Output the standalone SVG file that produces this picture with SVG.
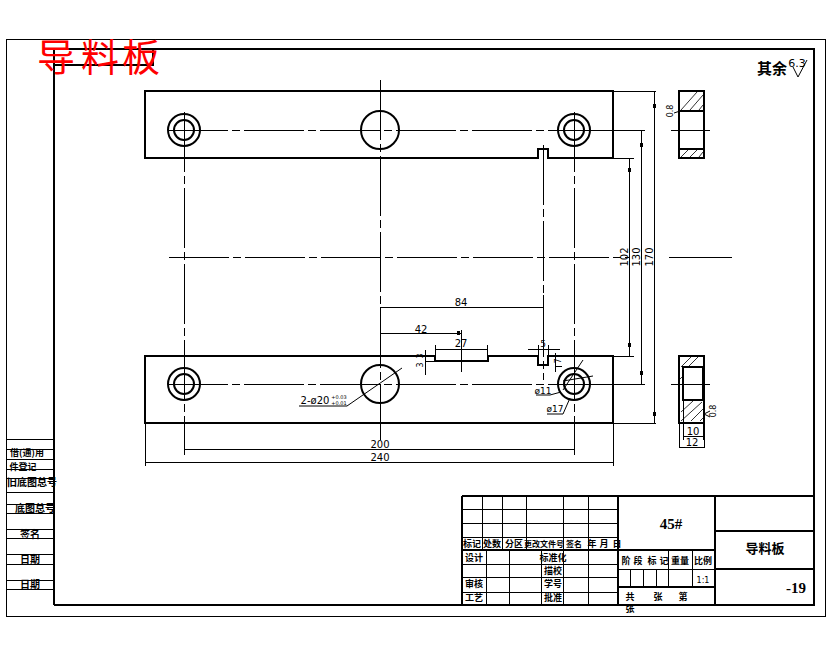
<svg xmlns="http://www.w3.org/2000/svg" width="830" height="654" viewBox="0 0 830 654">
<style>
.t1{fill:none;stroke:#000;stroke-width:1;shape-rendering:crispEdges}
.t2{fill:none;stroke:#000;stroke-width:2;shape-rendering:crispEdges}
.c2{fill:none;stroke:#000;stroke-width:2}
.d{fill:none;stroke:#000;stroke-width:1}
.cl{fill:none;stroke:#000;stroke-width:1;shape-rendering:crispEdges;stroke-dasharray:60 4 8 4}
.h{fill:none;stroke:#000;stroke-width:.8}
.dim{font-family:"DejaVu Sans","Liberation Sans",sans-serif;font-size:10px;fill:#000;text-anchor:middle}
.s9{font-size:9px}.s7{font-size:8px}.s5{font-size:5px}.s11{font-size:11px}.s8{font-size:8px}
.cn{font-family:"Noto Sans CJK SC",sans-serif;font-weight:700;font-size:9px;fill:#000;text-anchor:middle}
.cn10{font-size:10px}.cn8{font-size:8px}.cn13{font-size:13px}.cn15{font-size:15px}
.big{font-family:"Liberation Serif",serif;font-weight:700;fill:#000;text-anchor:middle}
.tk{fill:#000;stroke:none;shape-rendering:crispEdges}
</style>
<rect width="830" height="654" fill="#fff"/>
<g id="frame">
<rect class="t1" x="6.5" y="39.5" width="819" height="577"/>
<path class="t2" d="M54 605V49H814V605H54M54 65H153V49"/>
</g>
<g id="strip">
<path class="t1" d="M6 439.500H54M6 449.500H54M6 459.500H54M6 469.500H54M6 478.500H54M6 492.500H54M6 504.500H54M6 513.500H54M6 529.500H54M6 538.500H54M6 554.500H54M6 564.500H54M6 580.500H54M6 589.500H54"/>
<text class="cn" x="27" y="456">借(通)用</text>
<text class="cn" x="23" y="470">件登记</text>
<text class="cn cn10" x="32" y="486">旧底图总号</text>
<text class="cn cn10" x="35" y="512">底图总号</text>
<text class="cn cn10" x="30" y="538">签名</text>
<text class="cn cn10" x="30" y="563">日期</text>
<text class="cn cn10" x="30" y="588">日期</text>
</g>
<g id="title-red"><text x="37 81 122" y="71" font-family="Noto Sans CJK SC,sans-serif" font-size="38" fill="#f00">导料板</text></g>
<g id="plates">
<path class="t2" d="M145 91H613V158H548V149H538V158H145Z"/>
<path class="t2" d="M145 356H435V361H488V356H538V365H548V356H613V423H145Z"/>
<circle class="c2" cx="184" cy="130" r="16"/><circle class="c2" cx="184" cy="130" r="10"/>
<circle class="c2" cx="380" cy="130" r="19"/>
<circle class="c2" cx="574" cy="130" r="16"/><circle class="c2" cx="574" cy="130" r="10"/>
<circle class="c2" cx="184" cy="384" r="16"/><circle class="c2" cx="184" cy="384" r="10"/>
<circle class="c2" cx="380" cy="384" r="19"/>
<circle class="c2" cx="574" cy="384" r="16"/><circle class="c2" cx="574" cy="384" r="10"/>
</g>
<g id="sections">
<path class="t2" d="M679 91H704V158H679ZM679 111H704M679 149H704"/>
<path class="t2" d="M679 356H704V423H679ZM683 367H703V400H683Z"/>
<path class="h" d="M681 110L697 92M690 110L703 95M699 110L703 105M681 157L688 150M690 157L697 150M699 157L703 152M681 367L691 357M688 367L698 357M681 412L693 401M681 421L702 402M691 421L703 409M700 421L703 418M680 379L682 377"/>
<path class="cl" d="M671 130.500H710M671 384.500H710"/>
</g>
<g id="connectors">
<path class="cl" d="M168 130.500H600M168 384.500H600"/>
<path class="cl" d="M169 257.500H630"/>
<path class="d" shape-rendering="crispEdges" d="M669 257.500H732"/>
<path class="cl" d="M184.500 112V455"/>
<path class="cl" d="M380.500 80V440"/>
<path class="cl" d="M574.500 112V455"/>
<path class="cl" d="M543.500 145V380"/>
<path class="cl" d="M461.500 330V372"/>
<path class="t1" d="M613 91H656M613 158H634M613 356H634M613 423H656M600 130.500H645M600 384.500H645"/>
<path class="t1" d="M629.500 158V356M641.500 130V384M654.500 91V423"/>
<path class="t1" d="M145.500 423V466M613.500 423V466M185 449.500H574M145 462.500H613"/>
<path class="t1" d="M380 307.500H543M380 333.500H461M543.500 295V345M435.500 345V356M487.500 345V356M436 349.500H488M538.500 345V356M548.500 345V356M528 349.500H560"/>
<path class="t1" d="M425 356.500H435M425 361.500H435M425.500 350V375"/>
<path class="t1" d="M555.500 353V372M555 366.500H562"/>
<path class="d" d="M347 406H299M347 406L402 368M536 395H550L561 392M563 381L593 376M563 390L583 360M547 414H563L570 398"/>
<path class="t1" d="M683.500 400V440M703.500 400V440M679.500 423V448M704.500 423V448M684 436.500H703M680 447.500H704"/>
<path class="d" d="M704 414L710 411M704 414L710 417M680 111L674 113"/>
<path class="tk" d="M628 168h3v4h-3zM640 143h3v4h-3zM653 104h3v4h-3zM628 343h3v4h-3zM640 371h3v4h-3zM653 412h3v4h-3zM457 331h3v4h-3zM185 449h4v1h-4zM148 462h4v1h-4zM538 307h4v1h-4z"/>
</g>
<g id="dim-labels">
<text class="dim" x="461" y="306">84</text>
<text class="dim" x="421" y="333">42</text>
<text class="dim" x="461" y="347">27</text>
<text class="dim s9" x="543" y="347">5</text>
<text class="dim" x="380" y="448">200</text>
<text class="dim" x="380" y="461">240</text>
<text class="dim" transform="translate(628 257) rotate(-90)">102</text>
<text class="dim" transform="translate(640 257) rotate(-90)">130</text>
<text class="dim" transform="translate(653 257) rotate(-90)">170</text>
<text class="dim" x="315" y="404">2-ø20</text>
<text class="dim s5" x="339" y="399">+0.03</text>
<text class="dim s5" x="339" y="405">+0.01</text>
<text class="dim s9" x="543" y="394">ø11</text>
<text class="dim s9" x="555" y="412">ø17</text>
<text class="dim" x="693" y="435">10</text>
<text class="dim" x="692" y="446">12</text>
<text class="dim s7" transform="translate(423 356) rotate(-90)">3</text>
<text class="dim s7" transform="translate(423 365) rotate(-90)">3</text>
<text class="dim s7" transform="translate(561 361) rotate(-90)">7</text>
<text class="dim s7" transform="translate(673 111) rotate(-90)">0.8</text>
<text class="dim s7" transform="translate(716 411) rotate(-90)">0.8</text>
</g>
<g id="finish">
<text class="cn cn15" x="772" y="74">其余</text>
<path class="d" d="M793 67L798 77L807 60"/>
<text class="dim s11" x="797" y="67">6.3</text>
</g>
<g id="title-block">
<path class="t2" d="M462 496H814M462 550H618M618 550H715M715 531H814M715 569H814M618 587H715M462 496V605M618 496V605M715 496V605"/>
<path class="t1" d="M462 509.500H618M462 523.500H618M462 537.500H618M462 564.500H618M462 577.500H618M462 592.500H618M618 569.500H715"/>
<path class="t1" d="M482.500 496V550M502.500 496V550M526.500 496V550M563.500 496V605M588.500 496V605M486.500 550V605M509.500 550V605M541.500 550V605M668.500 550V587M692.500 550V587M630.500 569V587M643.500 569V587M656.500 569V587"/>
<text class="cn" x="472" y="547">标记</text>
<text class="cn" x="492" y="547">处数</text>
<text class="cn" x="514" y="547">分区</text>
<text class="cn cn8" x="544" y="547">更改文件号</text>
<text class="cn cn8" x="574" y="547">签名</text>
<text class="cn" x="592" y="547">年</text>
<text class="cn" x="604" y="547">月</text>
<text class="cn" x="617" y="547">日</text>
<text class="cn" x="474" y="561">设计</text>
<text class="cn" x="553" y="561">标准化</text>
<text class="cn" x="553" y="574">描校</text>
<text class="cn" x="474" y="587">审核</text>
<text class="cn" x="553" y="587">学号</text>
<text class="cn" x="474" y="601">工艺</text>
<text class="cn" x="553" y="601">批准</text>
<text class="cn" x="626" y="564">阶</text><text class="cn" x="638" y="564">段</text><text class="cn" x="652" y="564">标</text><text class="cn" x="664" y="564">记</text>
<text class="cn" x="680" y="564">重量</text>
<text class="cn" x="703" y="564">比例</text>
<text class="dim s8" x="703" y="583">1:1</text>
<text class="big" x="671" y="529" font-size="15">45#</text>
<text class="cn cn13" x="765" y="553">导料板</text>
<text class="big" x="796" y="593" font-size="15">-19</text>
<text class="cn" x="630" y="600">共</text><text class="cn" x="658" y="600">张</text><text class="cn" x="683" y="600">第</text><text class="cn" x="630" y="612">张</text>
</g>
</svg>
